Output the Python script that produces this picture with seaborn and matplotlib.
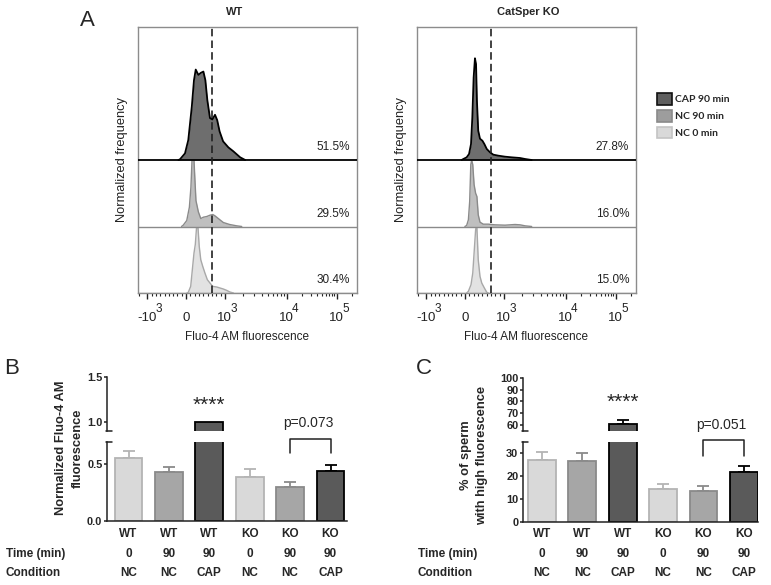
import numpy as np
import pandas as pd
import matplotlib
matplotlib.use("Agg")
import matplotlib.pyplot as plt
import matplotlib.transforms as mtransforms
from matplotlib.patches import Patch
import seaborn as sns

sns.set_style("ticks")
plt.rcParams['font.family'] = ['Liberation Sans', 'DejaVu Sans']

# ---------------- Panel A data: display channel (0-1000) vs normalized frequency ----------------
wt_cap_x = [186, 193, 216, 231, 247, 257, 265, 277, 288, 300, 309, 318, 330, 341, 353, 363, 374, 390, 414, 437, 468, 491]
wt_cap_y = [0.0, 0.01, 0.10, 0.30, 0.80, 1.20, 1.36, 1.28, 1.31, 1.33, 1.20, 0.90, 0.63, 0.61, 0.68, 0.60, 0.43, 0.28, 0.19, 0.13, 0.04, 0.0]
wt_nc90_x = [200, 208, 224, 236, 243, 248, 251, 257, 260, 266, 277, 288, 300, 315, 330, 343, 353, 368, 391, 420, 452, 475]
wt_nc90_y = [0.0, 0.02, 0.09, 0.29, 0.59, 0.99, 1.0, 1.0, 0.79, 0.39, 0.22, 0.12, 0.14, 0.15, 0.17, 0.18, 0.16, 0.12, 0.06, 0.03, 0.01, 0.0]
wt_nc0_x = [225, 231, 242, 251, 257, 263, 269, 275, 281, 288, 297, 307, 318, 330, 342, 361, 376, 391, 406, 421, 437]
wt_nc0_y = [0.0, 0.01, 0.10, 0.40, 0.60, 0.73, 1.0, 1.0, 0.70, 0.50, 0.40, 0.30, 0.20, 0.15, 0.10, 0.09, 0.075, 0.06, 0.04, 0.015, 0.0]

ko_cap_x = [205, 213, 228, 239, 248, 254, 260, 266, 271, 275, 281, 289, 300, 309, 320, 335, 350, 373, 403, 434, 472, 495, 525]
ko_cap_y = [0.0, 0.015, 0.04, 0.09, 0.24, 0.64, 1.24, 1.53, 1.44, 0.89, 0.44, 0.32, 0.29, 0.24, 0.165, 0.115, 0.08, 0.065, 0.05, 0.04, 0.03, 0.015, 0.0]
ko_nc90_x = [220, 228, 236, 242, 247, 251, 256, 262, 269, 275, 281, 289, 304, 327, 358, 403, 449, 472, 495, 525]
ko_nc90_y = [0.0, 0.015, 0.10, 0.38, 0.93, 1.0, 0.93, 0.63, 0.50, 0.45, 0.175, 0.065, 0.035, 0.035, 0.025, 0.02, 0.03, 0.025, 0.01, 0.0]
ko_nc0_x = [228, 236, 248, 256, 263, 269, 272, 275, 281, 289, 297, 309, 320, 327]
ko_nc0_y = [0.0, 0.025, 0.125, 0.30, 0.65, 0.95, 1.0, 0.98, 0.50, 0.25, 0.15, 0.075, 0.01, 0.0]

wt_pct = [51.5, 29.5, 30.4]   # CAP 90, NC 90, NC 0
ko_pct = [27.8, 16.0, 15.0]
gate_channel = 341
tick_channels = [44, 221, 398, 680, 909]
tick_base = ["-10", "0", "10", "10", "10"]
tick_exp = ["3", "", "3", "4", "5"]
legend_labels = ["CAP 90 min", "NC 90 min", "NC 0 min"]

# ---------------- Panels B & C data ----------------
genotype = ["WT", "WT", "WT", "KO", "KO", "KO"]
time_min = ["0", "90", "90", "0", "90", "90"]
condition = ["NC", "NC", "CAP", "NC", "NC", "CAP"]
b_mean = [0.553, 0.436, 1.0, 0.392, 0.304, 0.444]
b_sem = [0.067, 0.044, 0.0, 0.070, 0.044, 0.053]
c_mean = [27.0, 26.7, 60.6, 14.2, 13.5, 21.7]
c_sem = [3.6, 3.2, 3.6, 2.3, 2.2, 2.8]
b_pval = "p=0.073"
c_pval = "p=0.051"

# ---------------- styles ----------------
W, H = 771, 585
fig = plt.figure(figsize=(W / 100, H / 100), dpi=100)


def ax_px(l, t, r, b):
    return fig.add_axes([l / W, 1 - b / H, (r - l) / W, (b - t) / H])


hist_styles = [  # bottom -> top: NC 0, NC 90, CAP 90
    dict(fill="#e2e2e2", line="#a8a8a8", lw=1.0),
    dict(fill="#bfbfbf", line="#8a8a8a", lw=1.0),
    dict(fill="#6e6e6e", line="#000000", lw=1.3),
]


def draw_hist(ax, curves, pcts, title, title_x):
    for base, ((x, y), st) in enumerate(zip(curves, hist_styles)):
        yy = base + np.asarray(y)
        ax.fill_between(x, base, yy, color=st["fill"], lw=0, zorder=2 + base)
        ax.axhline(base, color=st["line"], lw=st["lw"], zorder=2.5 + base)
        ax.plot(x, yy, color=st["line"], lw=st["lw"], zorder=2.6 + base)
    for base, p in enumerate(pcts[::-1]):
        ax.text(0.97, base + 0.19, f"{p:.1f}%", ha="right", va="center", fontsize=8.5,
                color="#222222", transform=mtransforms.blended_transform_factory(ax.transAxes, ax.transData))
    ax.axvline(gate_channel, color="#222222", lw=1.2, ls=(0, (4.5, 2.5)), zorder=10)
    ax.set_xlim(0, 1000)
    ax.set_ylim(0, 4)
    ax.set_yticks([])
    ax.set_xticks(tick_channels)
    ax.set_xticklabels(tick_base, fontsize=9.5, color="#222222")
    tr = mtransforms.blended_transform_factory(ax.transData, ax.transAxes)
    for xc, base, e in zip(tick_channels, tick_base, tick_exp):
        if e:
            dx = 6.0 if base.startswith("-") else 3.8
            ax.annotate(e, xy=(xc, 0), xycoords=tr, xytext=(dx, -11.5), textcoords="offset points",
                        ha="left", va="center", fontsize=8.5, color="#222222", annotation_clip=False)
    minors = []
    for a, b in [(44, 221), (221, 398)]:
        minors += list(np.linspace(a, b, 10)[1:-1])
    for a, b in [(398, 680), (680, 909)]:
        minors += [a + (b - a) * np.log10(k) for k in range(2, 10)]
    minors += [909 + 229 * np.log10(2), 44 - 0.7 * 177 * 0.3]
    ax.set_xticks(minors, minor=True)
    ax.tick_params(axis="x", which="major", length=4, width=1, color="#222222", pad=9.5)
    ax.tick_params(axis="x", which="minor", length=2, width=0.8, color="#222222")
    for s in ax.spines.values():
        s.set_color("#8c8c8c")
        s.set_linewidth(1.0)
    ax.set_ylabel("Normalized frequency", fontsize=9.3, color="#222222")
    ax.yaxis.set_label_coords(-0.045, 0.5)
    ax.set_xlabel("Fluo-4 AM fluorescence", fontsize=8.5, color="#222222")
    ax.xaxis.set_label_coords(0.5, -0.143)
    ax.text(title_x, 1.056, title, ha="center", va="center", fontsize=8, fontweight="bold",
            transform=ax.transAxes)


axA1 = ax_px(137.7, 27, 356.7, 293)
axA2 = ax_px(416.7, 27, 635.7, 293)
draw_hist(axA1, [(wt_nc0_x, wt_nc0_y), (wt_nc90_x, wt_nc90_y), (wt_cap_x, wt_cap_y)], wt_pct, "WT", 0.444)
draw_hist(axA2, [(ko_nc0_x, ko_nc0_y), (ko_nc90_x, ko_nc90_y), (ko_cap_x, ko_cap_y)], ko_pct, "CatSper KO", 0.508)

leg_handles = [
    Patch(facecolor="#5f5f5f", edgecolor="#111111", lw=1.2, label=legend_labels[0]),
    Patch(facecolor="#9d9d9d", edgecolor="#8a8a8a", lw=1.2, label=legend_labels[1]),
    Patch(facecolor="#d9d9d9", edgecolor="#c4c4c4", lw=1.2, label=legend_labels[2]),
]
fig.legend(handles=leg_handles, loc="upper left", bbox_to_anchor=(657 / W, 1 - 93 / H), frameon=False,
           prop=dict(family=["Lato", "DejaVu Sans"], weight="bold", size=7.5), handlelength=1.45,
           handleheight=1.35, handletextpad=0.3, labelspacing=0.5, borderpad=0, borderaxespad=0)

fig.text(87 / W, 1 - 21 / H, "A", fontsize=16, ha="center", va="center")

# ---------------- bar panels ----------------
bar_fill = {"NC0": "#d9d9d9", "NC90": "#a6a6a6", "CAP90": "#5a5a5a"}
bar_edge = {"NC0": "#b4b4b4", "NC90": "#8a8a8a", "CAP90": "#000000"}
keys = [c + t for c, t in zip(condition, time_min)]
ids = [f"{g}_{t}_{c}" for g, t, c in zip(genotype, time_min, condition)]
fills = [bar_fill[k] for k in keys]
edges = [bar_edge[k] for k in keys]


def draw_bars(ax, means, sems, show_x):
    df = pd.DataFrame({"id": ids, "value": means})
    sns.barplot(data=df, x="id", y="value", hue="id", order=ids, hue_order=ids, palette=fills,
                saturation=1, width=0.69, linewidth=1.3, legend=False, errorbar=None, ax=ax)
    for cont, ec in zip(ax.containers, edges):
        for p in cont:
            p.set_edgecolor(ec)
            p.set_zorder(2)
    for i, (m, s) in enumerate(zip(means, sems)):
        if s > 0:
            ax.errorbar(i, m, yerr=[[0], [s]], fmt="none", ecolor=edges[i], elinewidth=1.3,
                        capsize=4.5, capthick=1.3, zorder=1)
    sns.despine(ax=ax)
    ax.set_xlabel("")
    ax.set_ylabel("")
    for sp in ("left", "bottom"):
        ax.spines[sp].set_color("#222222")
        ax.spines[sp].set_linewidth(1.1)
    ax.tick_params(axis="y", length=2.5, width=1.1, color="#222222", labelsize=7.9, pad=1)
    if show_x:
        ax.tick_params(axis="x", length=0, pad=4.5)
        ax.set_xticks(range(6))
        ax.set_xticklabels(genotype, fontsize=8.5, fontweight="bold")
    else:
        ax.patch.set_alpha(0)
        ax.spines["bottom"].set_visible(False)
        ax.tick_params(axis="x", length=0, labelbottom=False)


def break_marks(lower, upper):
    for ax, y in ((lower, 1.0), (upper, 0.0)):
        ax.plot([-0.006, 0.02], [y, y], transform=ax.transAxes, color="#222222", lw=1.1, clip_on=False)


def row_labels(ax, x_left):
    tr = mtransforms.blended_transform_factory(ax.transData, fig.transFigure)
    for row, (lab, vals) in enumerate((("Time (min)", time_min), ("Condition", condition))):
        y = 1 - (554 + 19.5 * row) / H
        fig.text(x_left / W, y, lab, fontsize=8.5, fontweight="bold", ha="left", va="center")
        for i, v in enumerate(vals):
            ax.text(i, y, v, transform=tr, fontsize=8.5, fontweight="bold", ha="center", va="center")


# Panel B
bL = ax_px(107.3, 441.5, 346.7, 521.3)
bU = ax_px(107.3, 377.3, 346.7, 430.6)
draw_bars(bL, b_mean, b_sem, True)
draw_bars(bU, b_mean, b_sem, False)
bL.set_ylim(0, 0.7)
bU.set_ylim(0.9, 1.5)
bL.set_yticks([0.0, 0.5])
bL.set_yticklabels(["0.0", "0.5"], fontweight="bold")
bU.set_yticks([1.0, 1.5])
bU.set_yticklabels(["1.0", "1.5"], fontweight="bold")
for a in (bL, bU):
    a.set_xlim(-0.525, 5.4)
break_marks(bL, bU)
bU.text(2, 1.19, "****", ha="center", va="center", fontsize=15)
bL.plot([4, 4, 5, 5], [0.6, 0.72, 0.72, 0.6], color="#222222", lw=1.1, clip_on=False)
bL.text(4.45, 0.862, b_pval, ha="center", va="center", fontsize=10, clip_on=False, zorder=20)
row_labels(bL, 6)
fig.text(69.5 / W, 1 - 448 / H, "Normalized Fluo-4 AM\nfluorescence", rotation=90, ha="center", va="center",
         fontsize=9.3, fontweight="bold", linespacing=1.6, multialignment="center")
fig.text(12 / W, 1 - 369 / H, "B", fontsize=16, ha="center", va="center")

# Panel C
cL = ax_px(523.3, 441.7, 758, 522)
cU = ax_px(523.3, 377.7, 758, 431)
draw_bars(cL, c_mean, c_sem, True)
draw_bars(cU, c_mean, c_sem, False)
cL.set_ylim(0, 35)
cU.set_ylim(55, 100)
cL.set_yticks([0, 10, 20, 30])
cL.set_yticklabels(["0", "10", "20", "30"], fontweight="bold")
cU.set_yticks([60, 70, 80, 90, 100])
cU.set_yticklabels(["60", "70", "80", "90", "100"], fontweight="bold")
for a in (cL, cU):
    a.set_xlim(-0.463, 5.35)
break_marks(cL, cU)
cU.text(2, 78.9, "****", ha="center", va="center", fontsize=15)
cL.plot([4, 4, 5, 5], [28.8, 35.7, 35.7, 28.8], color="#222222", lw=1.1, clip_on=False)
cL.text(4.45, 42.3, c_pval, ha="center", va="center", fontsize=10, clip_on=False, zorder=20)
row_labels(cL, 418)
fig.text(474 / W, 1 - 455 / H, "% of sperm\nwith high fluorescence", rotation=90, ha="center", va="center",
         fontsize=9.3, fontweight="bold", linespacing=1.5, multialignment="center")
fig.text(424 / W, 1 - 369 / H, "C", fontsize=16, ha="center", va="center")

fig.savefig("out.png", dpi=100)
